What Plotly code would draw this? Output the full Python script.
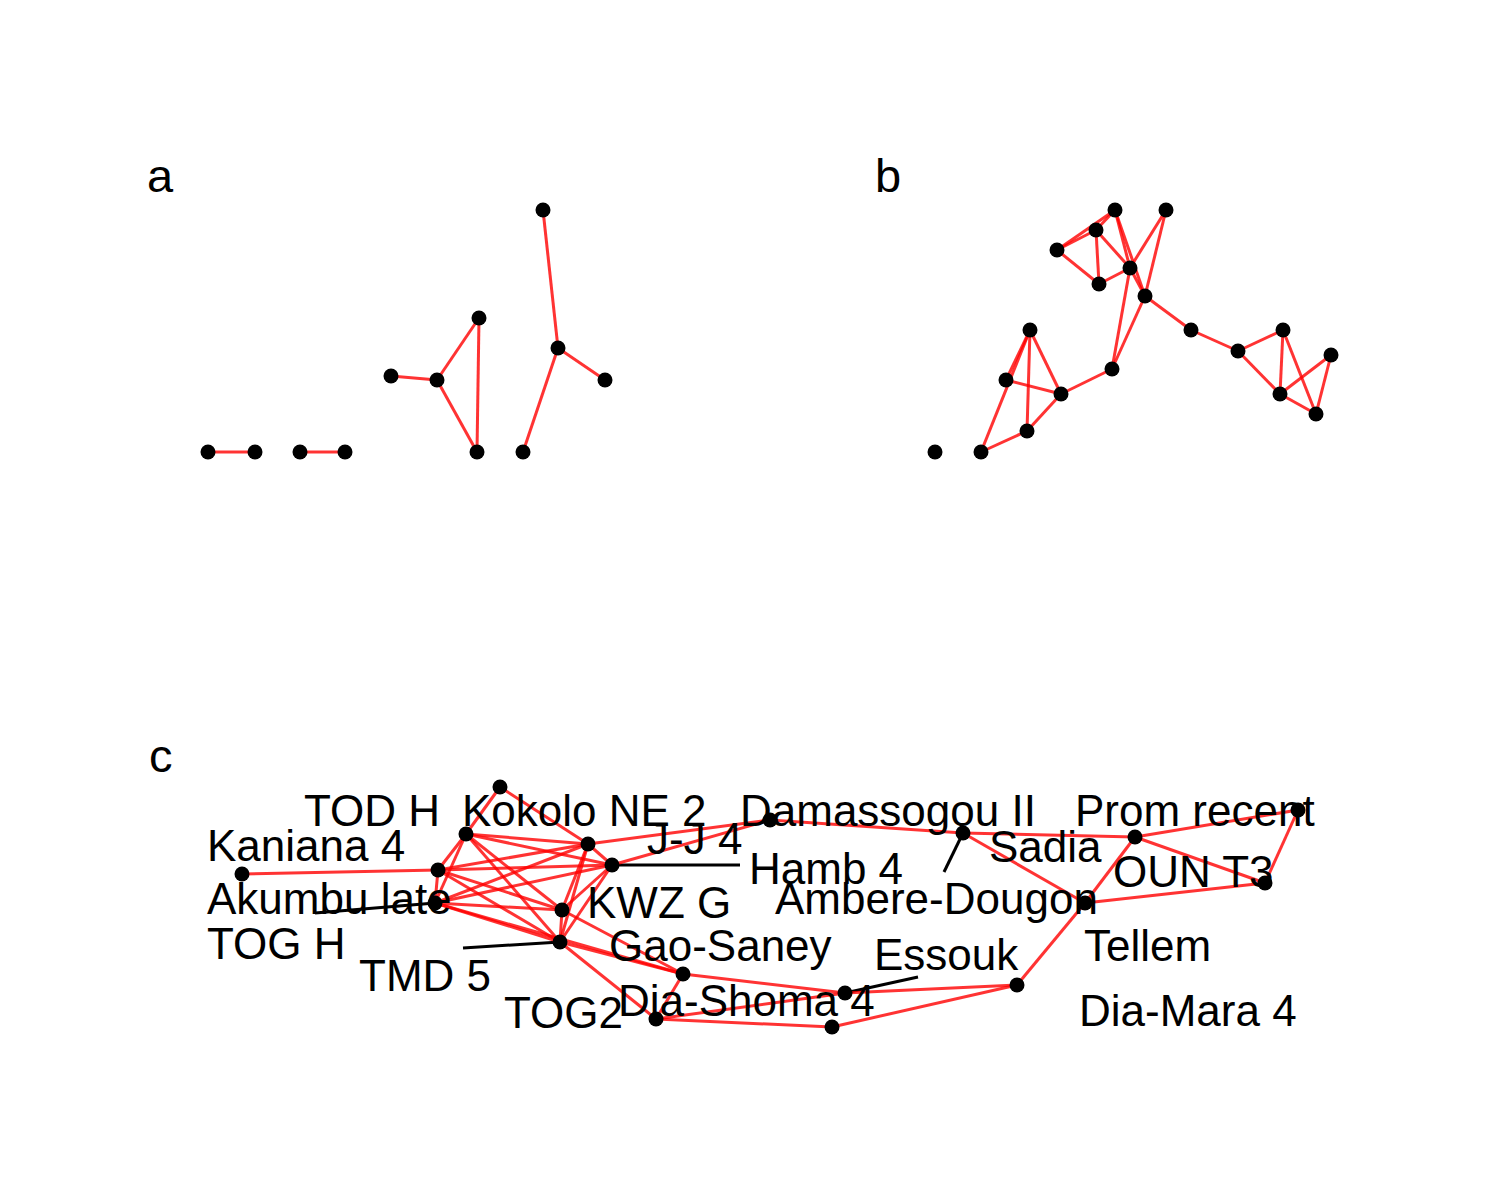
import plotly.graph_objects as go

# Panel a
a_x = [208,255,300,345,391,437,479,477,543,558,605,523]
a_y = [452,452,452,452,376,380,318,452,210,348,380,452]
a_edges = [(0,1),(2,3),(4,5),(5,6),(5,7),(6,7),(8,9),(9,10),(9,11)]
# Panel b
b_x = [935,981,1027,1006,1030,1061,1112,1145,1130,1099,1096,1115,1166,1057,1191,1238,1283,1280,1316,1331]
b_y = [452,452,431,380,330,394,369,296,268,284,230,210,210,250,330,351,330,394,414,355]
b_edges = [(1,2),(1,4),(2,5),(2,4),(3,4),(3,5),(4,5),(5,6),(6,7),(6,8),(7,8),(8,9),(9,10),(10,11),(11,8),(11,7),
           (12,7),(12,8),(13,10),(13,11),(13,9),(10,8),(7,14),(14,15),(15,16),(15,17),(16,17),(16,18),(17,18),(18,19),(19,17)]
# Panel c
c_x = [242,438,466,500,435,588,612,562,560,683,656,832,845,1017,1085,963,770,1135,1298,1265]
c_y = [874,870,834,787,903,844,865,910,942,974,1019,1027,993,985,903,833,820,837,810,883]
clique = [1,2,4,5,6,7,8]
c_edges = [(0,1),(2,3),(3,5),(5,16),(6,16),(16,15),(15,14),(15,17),(17,18),(17,19),(18,19),(14,19),(14,17),(14,13),
           (13,12),(13,11),(9,12),(10,9),(10,12),(10,11),(8,9),(8,10),(7,9),(4,9)]
c_edges += [(clique[i],clique[j]) for i in range(len(clique)) for j in range(i+1,len(clique))]
labels = ["TOD H","Kokolo NE 2","Damassogou II","Prom recent","Kaniana 4","J-J 4","Sadia","Hamb 4","OUN T3",
          "Akumbu late","KWZ G","Ambere-Dougon","TOG H","Gao-Saney","Essouk","Tellem","TMD 5","Dia-Shoma 4","TOG2","Dia-Mara 4"]
lab_x = [302,460,738,1073,205,645,987,747,1111,205,585,773,205,607,872,1082,357,616,502,1077]
lab_y = [810,810,810,810,845,838,846,868,871,898,902,898,943,945,954,945,975,1000,1012,1010]
leaders = [((435,903),(315,913)),((560,942),(463,948)),((612,865),(740,865)),((845,993),(918,977)),((963,833),(944,872))]

fig = go.Figure()
def edges_trace(xs, ys, edges):
    ex, ey = [], []
    for i, j in edges:
        ex += [xs[i], xs[j], None]; ey += [ys[i], ys[j], None]
    return go.Scatter(x=ex, y=ey, mode="lines", line=dict(color="rgba(255,0,0,0.8)", width=3), hoverinfo="skip")

lx, ly = [], []
for (p, q) in leaders:
    lx += [p[0], q[0], None]; ly += [p[1], q[1], None]
fig.add_trace(go.Scatter(x=lx, y=ly, mode="lines", line=dict(color="black", width=3)))
for xs, ys, ed in [(a_x,a_y,a_edges),(b_x,b_y,b_edges),(c_x,c_y,c_edges)]:
    fig.add_trace(edges_trace(xs, ys, ed))
    fig.add_trace(go.Scatter(x=xs, y=ys, mode="markers", marker=dict(color="black", size=15)))
for t, x, y in zip(labels, lab_x, lab_y):
    fig.add_annotation(x=x, y=y, text=t, showarrow=False, xanchor="left", yanchor="middle",
                       font=dict(size=44, color="black", family="Liberation Sans"))
for t, x, y in [("a",145,175),("b",873,175),("c",147,755)]:
    fig.add_annotation(x=x, y=y, text=t, showarrow=False, xanchor="left", yanchor="middle",
                       font=dict(size=47, color="black", family="Liberation Sans"))
fig.update_layout(width=1500, height=1200, margin=dict(l=0, r=0, t=0, b=0), showlegend=False,
                  plot_bgcolor="white", paper_bgcolor="white",
                  xaxis=dict(range=[8,1508], visible=False),
                  yaxis=dict(range=[1208,8], visible=False))
fig.write_html("out.html")
